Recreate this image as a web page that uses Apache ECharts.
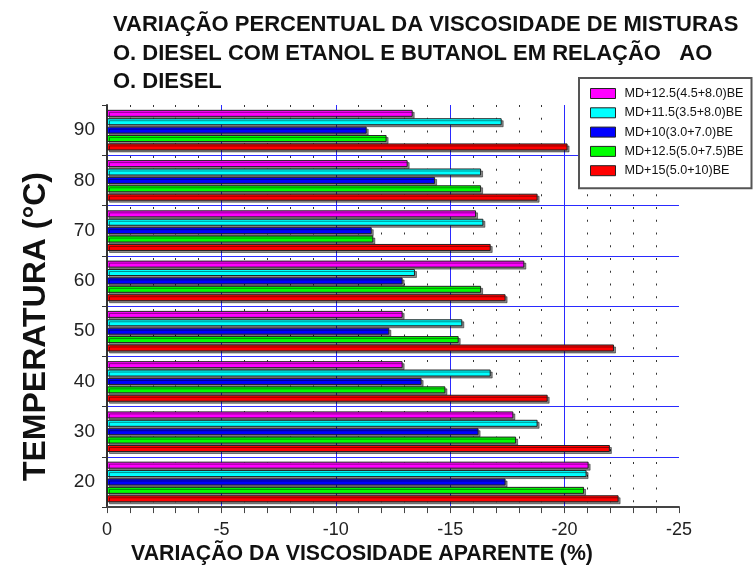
<!DOCTYPE html>
<html>
<head>
<meta charset="utf-8">
<script src="https://cdn.jsdelivr.net/npm/echarts@6/dist/echarts.min.js"></script>
<style>
  html, body { margin: 0; padding: 0; background: #fff; }
  #chart { width: 753px; height: 570px; }
</style>
</head>
<body>
<div id="chart"></div>
<script>
// temperatures (°C), bottom to top
var temperatures = ['20', '30', '40', '50', '60', '70', '80', '90'];

// viscosity variation (%) per blend
var md125_45_80 = [-21.05, -17.76, -12.92, -12.92, -18.24, -16.13, -13.14, -13.36];
var md115_35_80 = [-20.96, -18.82, -16.77, -15.53, -13.46, -16.45, -16.35, -17.25];
var md10_30_70 = [-17.42, -16.24, -13.75, -12.34, -12.92, -11.57, -14.34, -11.35];
var md125_50_75 = [-20.85, -17.88, -14.79, -15.37, -16.35, -11.64, -16.35, -12.22];
var md15_50_10 = [-22.36, -21.98, -19.26, -22.16, -17.42, -16.77, -18.82, -20.13];

var blendNames = ['MD+12.5(4.5+8.0)BE', 'MD+11.5(3.5+8.0)BE', 'MD+10(3.0+7.0)BE', 'MD+12.5(5.0+7.5)BE', 'MD+15(5.0+10)BE'];
var blendColors = ['#ff00ff', '#00ffff', '#0000ff', '#00ff00', '#ff0000'];
var blendData = [md125_45_80, md115_35_80, md10_30_70, md125_50_75, md15_50_10];

var chart = echarts.init(document.getElementById('chart'));

var series = [];
for (var i = 0; i < blendNames.length; i++) {
    series.push({
        name: blendNames[i],
        type: 'bar',
        barWidth: 7,
        barGap: '20%',
        itemStyle: {
            color: blendColors[i],
            borderColor: '#222',
            borderWidth: 1,
            shadowColor: 'rgba(0, 0, 0, 0.45)',
            shadowOffsetX: 2,
            shadowOffsetY: 2,
            shadowBlur: 0
        },
        data: blendData[i]
    });
}

var option = {
    animation: false,
    textStyle: { fontFamily: 'Liberation Sans' },
    title: {
        text: 'VARIAÇÃO PERCENTUAL DA VISCOSIDADE DE MISTURAS\nO. DIESEL COM ETANOL E BUTANOL EM RELAÇÃO   AO\nO. DIESEL',
        left: 113,
        top: 11,
        padding: 0,
        textStyle: {
            fontFamily: 'Liberation Sans',
            fontSize: 22,
            fontWeight: 'bold',
            lineHeight: 28.5,
            color: '#111'
        }
    },
    legend: {
        orient: 'vertical',
        left: 579,
        top: 78,
        padding: [9, 8, 11, 11],
        itemGap: 6.3,
        itemWidth: 25,
        itemHeight: 10,
        icon: 'rect',
        backgroundColor: '#fff',
        borderColor: '#555',
        borderWidth: 2,
        itemStyle: { borderColor: '#222', borderWidth: 1, shadowColor: 'rgba(0,0,0,0)' },
        textStyle: { fontSize: 12.6, color: '#111', padding: [0, 0, 0, 4] },
        data: blendNames
    },
    grid: {
        left: 107,
        right: 74,
        top: 105,
        bottom: 57
    },
    xAxis: {
        type: 'value',
        min: -25,
        max: 0,
        interval: 5,
        inverse: true,
        name: 'VARIAÇÃO DA VISCOSIDADE APARENTE (%)',
        nameLocation: 'middle',
        nameGap: 34,
        nameTextStyle: {
            fontSize: 21.3,
            fontWeight: 'bold',
            color: '#111',
            lineHeight: 21,
            padding: [0, 62, 0, 0]
        },
        axisLine: { show: true, onZero: false, lineStyle: { color: '#444', width: 2 } },
        axisTick: { show: true, length: 6, lineStyle: { color: '#444' } },
        minorTick: { show: true, splitNumber: 5, length: 6, lineStyle: { color: '#444' } },
        axisLabel: { fontSize: 18, margin: 14, color: '#222' },
        splitLine: {
            show: true,
            showMinLine: false,
            showMaxLine: false,
            lineStyle: { color: '#2a2aff', width: 1 }
        },
        minorSplitLine: {
            show: true,
            lineStyle: { color: '#333', width: 1, type: [2, 10.75] }
        }
    },
    yAxis: {
        type: 'category',
        data: temperatures,
        name: 'TEMPERATURA (°C)',
        nameLocation: 'middle',
        nameRotate: 90,
        nameGap: 55,
        nameTextStyle: {
            fontSize: 32,
            fontWeight: 'bold',
            color: '#111',
            padding: [0, 41, 0, 0]
        },
        axisLine: { show: true, lineStyle: { color: '#333', width: 2 } },
        axisTick: { show: true, length: 5, lineStyle: { color: '#333' } },
        axisLabel: { fontSize: 19, margin: 12, color: '#222' },
        splitLine: {
            show: true,
            showMinLine: false,
            showMaxLine: false,
            lineStyle: { color: '#2a2aff', width: 1 }
        }
    },
    series: series
};

chart.setOption(option);
</script>
</body>
</html>
